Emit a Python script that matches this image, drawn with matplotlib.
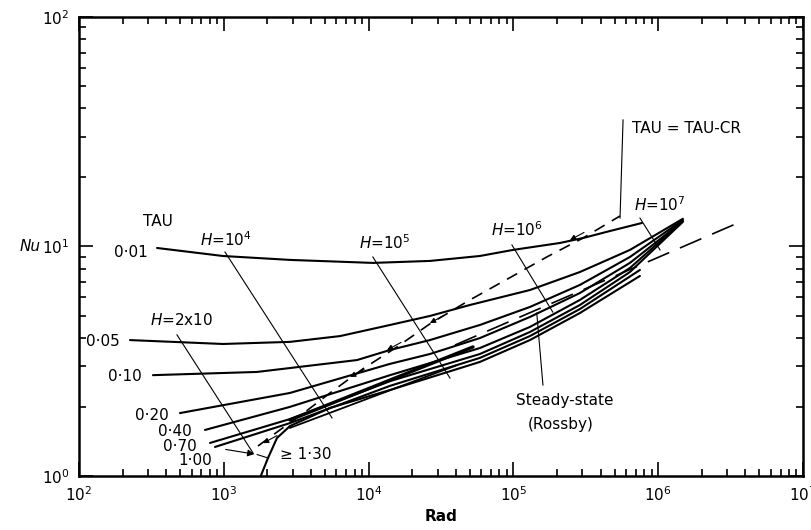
import matplotlib
matplotlib.use("Agg")
import matplotlib.pyplot as plt

plt.rcParams['font.family'] = 'DejaVu Sans'
plt.rcParams['mathtext.fontset'] = 'dejavusans'

# Curvas Nu(Rad) para cada valor de TAU
rad_001 = [346, 986, 2860, 10700, 26500, 58700, 99300, 210000, 303000, 465000, 773000]
nu_001 = [9.85, 9.09, 8.74, 8.48, 8.65, 9.09, 9.66, 10.36, 10.89, 11.68, 12.66]

rad_005 = [225, 986, 2860, 6350, 14060, 26500, 50100, 130000, 288000, 638000, 1480000]
nu_005 = [3.91, 3.76, 3.84, 4.07, 4.55, 4.98, 5.56, 6.46, 7.74, 9.66, 13.2]

rad_010 = [324, 1695, 8320, 14060, 26500, 58700, 130000, 288000, 638000, 1480000]
nu_010 = [2.75, 2.84, 3.20, 3.54, 3.91, 4.55, 5.45, 6.80, 9.0, 13.05]

rad_020 = [498, 2860, 14060, 26500, 58700, 130000, 288000, 638000, 1480000]
nu_020 = [1.88, 2.30, 3.08, 3.40, 3.99, 4.93, 6.27, 8.48, 12.9]

rad_040 = [741, 2860, 14060, 58700, 130000, 288000, 638000, 1480000]
nu_040 = [1.587, 2.00, 2.75, 3.61, 4.46, 5.85, 8.06, 12.9]

rad_070 = [803, 2860, 14060, 58700, 130000, 288000, 638000, 1480000]
nu_070 = [1.393, 1.77, 2.59, 3.40, 4.24, 5.56, 7.74, 12.8]

rad_100 = [869, 2860, 14060, 58700, 130000, 288000, 748000]
nu_100 = [1.338, 1.70, 2.47, 3.27, 4.07, 5.34, 7.90]

rad_130 = [1800, 2020, 2330, 2860, 5410, 14060, 58700, 130000, 288000, 748000]
nu_130 = [1.0, 1.198, 1.464, 1.65, 1.98, 2.37, 3.14, 3.91, 5.13, 7.44]

# Tramos cortos dentro del haz (terminan hacia Rad = 5e4)
rad_haz1 = [2860, 52600]
nu_haz1 = [1.754, 3.65]
rad_haz2 = [2860, 40700]
nu_haz2 = [1.62, 3.04]

# Curva TAU = TAU-CR (discontinua)
rad_cr = [1722, 2440, 3640, 5410, 9140, 15700, 26500, 50100, 99300, 170000, 303000, 545000]
nu_cr = [1.351, 1.587, 1.90, 2.30, 2.93, 3.65, 4.60, 5.85, 7.44, 9.0, 10.89, 13.58]

# Puntas de flecha sobre la curva TAU-CR
rad_flecha = [1866, 7450, 13400, 26500, 246000]
nu_flecha = [1.39, 2.70, 3.54, 4.64, 10.67]

# Estado estacionario (Rossby)
rad_ss = [39500, 3390000]
nu_ss = [3.72, 12.5]

# Lineas de H constante
h_rad = [[475, 1591], [1019, 5590], [10700, 36500], [97700, 187000], [748000, 1030000]]
h_nu = [[4.12, 1.26], [9.46, 1.79], [9.0, 2.67], [10.15, 5.18], [13.3, 9.66]]

tau_labels = ['0·01', '0·05', '0·10', '0·20', '0·40', '0·70', '1·00', '≥ 1·30']

fig = plt.figure(figsize=(8.12, 5.30), dpi=100)
ax = fig.add_axes([0.0973, 0.1019, 0.8916, 0.8661])
ax.set_xscale('log')
ax.set_yscale('log')
ax.set_xlim(1e2, 1e7)
ax.set_ylim(1, 100)

curvas = [(rad_001, nu_001), (rad_005, nu_005), (rad_010, nu_010), (rad_020, nu_020),
          (rad_040, nu_040), (rad_070, nu_070), (rad_100, nu_100), (rad_130, nu_130)]
for r, n in curvas:
    ax.plot(r, n, color='black', lw=1.5, solid_capstyle='round', solid_joinstyle='round')

ax.plot(rad_haz1, nu_haz1, color='black', lw=2.4, solid_capstyle='round')
ax.plot(rad_haz2, nu_haz2, color='black', lw=1.3, solid_capstyle='round')

ax.plot(rad_cr, nu_cr, color='black', lw=1.2, dashes=(7, 5))
ax.plot(rad_ss, nu_ss, color='black', lw=1.2, dashes=(14, 7))

# flechas pequenas apuntando hacia Rad menores
for x, y in zip(rad_flecha, nu_flecha):
    ax.annotate('', xy=(x, y), xytext=(x * 1.25, y * 1.25 ** 0.34),
                arrowprops=dict(arrowstyle='-|>', color='black', lw=0.8,
                                mutation_scale=8, shrinkA=0, shrinkB=0))

for r, n in zip(h_rad, h_nu):
    ax.plot(r, n, color='black', lw=0.8)

# Flecha desde la curva 1.00
ax.annotate('', xy=(1700, 1.24), xytext=(986, 1.311),
            arrowprops=dict(arrowstyle='-|>', color='black', lw=0.8, mutation_scale=10))
ax.plot([1700, 2020], [1.24, 1.198], color='black', lw=0.8)

# Lineas guia de las etiquetas
ax.plot([545000, 572000], [13.3, 35.6], color='black', lw=0.8)
ax.plot([145000, 160000], [5.13, 2.49], color='black', lw=0.8)

# Etiquetas de TAU
fs = 11
ax.text(351, 12.8, 'TAU', fontsize=fs, ha='center', va='center')
tau_pos = [(229, 9.46), (146, 3.84), (208, 2.70), (319, 1.84), (460, 1.555),
           (498, 1.338), (632, 1.174), (3700, 1.235)]
for (x, y), t in zip(tau_pos, tau_labels):
    ax.text(x, y, t, fontsize=fs, ha='center', va='center')

ax.text(514, 4.78, r'$H$=2x10', fontsize=fs, ha='center', va='center')
ax.text(1035, 10.67, r'$H$=10$^4$', fontsize=fs, ha='center', va='center')
ax.text(12970, 10.36, r'$H$=10$^5$', fontsize=fs, ha='center', va='center')
ax.text(106000, 11.8, r'$H$=10$^6$', fontsize=fs, ha='center', va='center')
ax.text(1030000, 15.2, r'$H$=10$^7$', fontsize=fs, ha='center', va='center')
ax.text(659000, 32.8, 'TAU = TAU-CR', fontsize=fs, ha='left', va='center')
ax.text(227000, 2.14, 'Steady-state', fontsize=fs, ha='center', va='center')
ax.text(213000, 1.67, '(Rossby)', fontsize=fs, ha='center', va='center')

# Ejes
for s in ax.spines.values():
    s.set_linewidth(1.8)
ax.tick_params(which='both', direction='in', top=True, right=True, width=1.2, labelsize=fs)
ax.tick_params(which='major', length=10, pad=7)
ax.tick_params(which='minor', length=5)
ax.set_xlabel('Rad', fontsize=fs, fontweight='bold', labelpad=3)
ax.set_ylabel('Nu', fontsize=fs, style='italic', rotation=0, va='center')
ax.yaxis.set_label_coords(-0.068, 0.5)

fig.savefig('out.png', dpi=100)
